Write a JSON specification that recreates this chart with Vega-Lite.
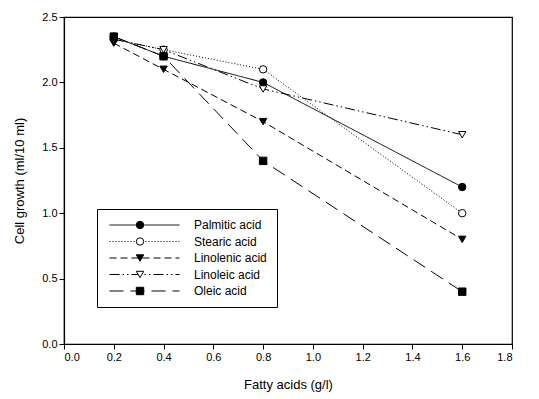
{
"$schema": "https://vega.github.io/schema/vega-lite/v6.json",
"width": 448, "height": 327,
"autosize": "none",
"padding": {"left": 64, "top": 17, "right": 27, "bottom": 55},
"background": "white",
"config": {
 "view": {"stroke": "black", "strokeWidth": 1.2},
 "axis": {"domainColor": "black", "tickColor": "black", "labelColor": "black", "titleColor": "black", "labelFont": "Liberation Sans", "titleFont": "Liberation Sans", "labelFontSize": 11, "titleFontSize": 13, "titleFontWeight": "normal", "grid": false, "tickSize": 5, "domainWidth": 1.2},
 "legend": {"labelFont": "Liberation Sans", "labelFontSize": 12, "labelColor": "black"}
},
"data": {"values": [
 {"acid": "Palmitic acid", "x": 0.2, "y": 2.35},
 {"acid": "Palmitic acid", "x": 0.4, "y": 2.2},
 {"acid": "Palmitic acid", "x": 0.8, "y": 2.0},
 {"acid": "Palmitic acid", "x": 1.6, "y": 1.2},
 {"acid": "Stearic acid", "x": 0.2, "y": 2.33},
 {"acid": "Stearic acid", "x": 0.4, "y": 2.25},
 {"acid": "Stearic acid", "x": 0.8, "y": 2.1},
 {"acid": "Stearic acid", "x": 1.6, "y": 1.0},
 {"acid": "Linolenic acid", "x": 0.2, "y": 2.3},
 {"acid": "Linolenic acid", "x": 0.4, "y": 2.1},
 {"acid": "Linolenic acid", "x": 0.8, "y": 1.7},
 {"acid": "Linolenic acid", "x": 1.6, "y": 0.8},
 {"acid": "Linoleic acid", "x": 0.2, "y": 2.33},
 {"acid": "Linoleic acid", "x": 0.4, "y": 2.25},
 {"acid": "Linoleic acid", "x": 0.8, "y": 1.95},
 {"acid": "Linoleic acid", "x": 1.6, "y": 1.6},
 {"acid": "Oleic acid", "x": 0.2, "y": 2.35},
 {"acid": "Oleic acid", "x": 0.4, "y": 2.2},
 {"acid": "Oleic acid", "x": 0.8, "y": 1.4},
 {"acid": "Oleic acid", "x": 1.6, "y": 0.4}
]},
"encoding": {
 "x": {"field": "x", "type": "quantitative", "scale": {"domain": [0, 1.8], "nice": false}, "axis": {"values": [0, 0.2, 0.4, 0.6, 0.8, 1.0, 1.2, 1.4, 1.6, 1.8], "format": ".1f", "title": "Fatty acids (g/l)", "titlePadding": 16}},
 "y": {"field": "y", "type": "quantitative", "scale": {"domain": [0, 2.5], "nice": false}, "axis": {"values": [0, 0.5, 1.0, 1.5, 2.0, 2.5], "format": ".1f", "title": "Cell growth (ml/10 ml)", "titlePadding": 15}}
},
"layer": [
 {"mark": {"type": "line", "color": "black", "strokeWidth": 1},
  "encoding": {"strokeDash": {"field": "acid", "type": "nominal",
   "scale": {"domain": ["Palmitic acid", "Stearic acid", "Linolenic acid", "Linoleic acid", "Oleic acid", " "], "range": [[1, 0], [1, 2], [7, 4], [10, 3, 1.5, 3, 1.5, 3], [14, 7], [1, 0]]},
   "legend": {"title": null, "orient": "none", "legendX": 33, "legendY": 192, "values": ["Palmitic acid", "Stearic acid", "Linolenic acid", "Linoleic acid", "Oleic acid"], "symbolType": "M-1,0H19", "symbolSize": 49, "symbolStrokeWidth": 1, "symbolStrokeColor": "black", "strokeColor": "black", "fillColor": "white", "padding": 10, "rowPadding": 4.5, "labelOffset": 75}}}},
 {"mark": {"type": "point", "stroke": "black", "strokeWidth": 1, "opacity": 1, "size": 55},
  "encoding": {
   "shape": {"field": "acid", "type": "nominal", "scale": {"domain": ["Palmitic acid", "Stearic acid", "Linolenic acid", "Linoleic acid", "Oleic acid"], "range": ["circle", "circle", "triangle-down", "triangle-down", "square"]},
    "legend": {"title": null, "orient": "none", "legendX": 60, "legendY": 192, "symbolSize": 55, "symbolStrokeWidth": 1, "padding": 10, "rowPadding": 4.5, "labelExpr": "''", "strokeColor": null, "fillColor": null,
     "encode": {"symbols": {"stroke": {"value": "black"}, "strokeWidth": {"value": 1}, "opacity": {"value": 1}, "fillOpacity": {"value": 1}}}}},
   "fill": {"field": "acid", "type": "nominal", "scale": {"domain": ["Palmitic acid", "Stearic acid", "Linolenic acid", "Linoleic acid", "Oleic acid"], "range": ["black", "white", "black", "white", "black"]},
    "legend": {"title": null, "orient": "none", "legendX": 60, "legendY": 192, "symbolSize": 55, "symbolStrokeWidth": 1, "padding": 10, "rowPadding": 4.5, "labelExpr": "''", "strokeColor": null, "fillColor": null,
     "encode": {"symbols": {"stroke": {"value": "black"}, "strokeWidth": {"value": 1}, "opacity": {"value": 1}, "fillOpacity": {"value": 1}}}}}
  }}
]
}
